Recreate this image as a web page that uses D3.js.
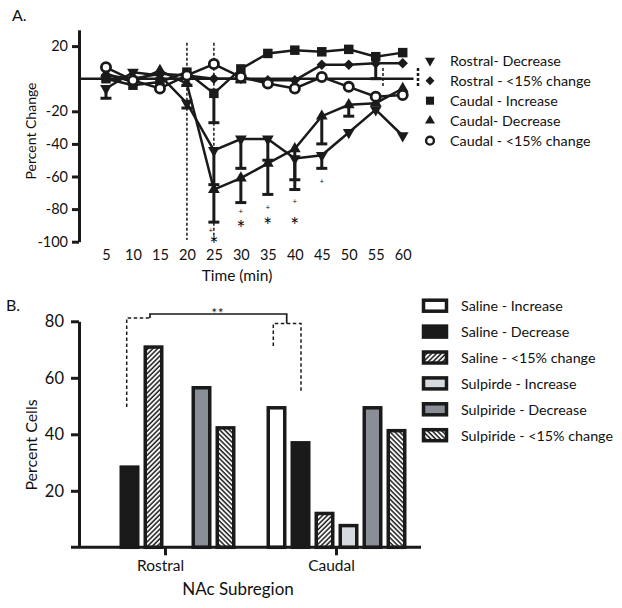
<!DOCTYPE html>
<html><head><meta charset="utf-8">
<script src="https://cdn.jsdelivr.net/npm/d3@7"></script>
<style>
body{margin:0;background:#fff}
svg{display:block}
text{font-family:Lato,"Open Sans",sans-serif;fill:#111}
</style>
</head><body>
<svg id="c" width="622" height="608"></svg>
<script>
// ---------- Panel A data ----------
const times = [5,10,15,20,25,30,35,40,45,50,55,60];
const rostralDecrease     = [-6, 4, 2, -15, -44, -37, -37, -49, -47, -33, -19, -35];
const rostralDecreaseErr  = [-12, null, null, -18, -65, -55, -50, -68, -55, null, null, null];
const rostralNoChange     = [2, 0, 3, 2, 0, 0, -1, -1, 8.5, 8.5, 9.5, 9.5];
const rostralNoChangeErr  = [null, null, null, null, null, null, null, null, null, null, 0, null];
const caudalIncrease      = [0, -4, -2, 4, -9, 6, 15.5, 17.5, 16.5, 18, 13.5, 16];
const caudalIncreaseErr   = [null, null, null, -4, -27, -2, null, null, null, null, null, null];
const caudalDecrease      = [3, -2, 5, -3, -68, -61, -52, -43, -23, -16, -15, -6];
const caudalDecreaseErr   = [null, null, null, null, -88, -76, -71, -62, -40, -23, null, null];
const caudalNoChange      = [7, -1, -6, 2, 9, 1, -3, -6, 1, -5, -11, -10];
const seriesNamesA = ["Rostral- Decrease","Rostral - <15% change","Caudal - Increase","Caudal- Decrease","Caudal - <15% change"];
const yTicksA = [20,-20,-40,-60,-80,-100];
const stimTimes = [20, 25];
const plusMarks = [{t:25,v:-93},{t:30,v:-81},{t:35,v:-78.5},{t:40,v:-75},{t:45,v:-63}];
const starMarks = [{t:25,v:-98},{t:30,v:-88},{t:35,v:-86},{t:40,v:-86}];

// ---------- Panel B data ----------
const subregions = ["Rostral","Caudal"];
const seriesNamesB = ["Saline - Increase","Saline - Decrease","Saline - <15% change","Sulpirde - Increase","Sulpiride - Decrease","Sulpiride - <15% change"];
const salineIncrease    = [0, 50];
const salineDecrease    = [29, 37.6];
const salineNoChange    = [71.5, 12.6];
const sulpirideIncrease = [0, 8.3];
const sulpirideDecrease = [57.1, 50];
const sulpirideNoChange = [42.9, 41.9];
const yTicksB = [20,40,60,80];

const INK = "#1a1a1a";
const FONT = "Lato";
const fmt = d => String(d);
const svg = d3.select("#c");
const defs = svg.append("defs");
function hatch(id, angle){
  const p = defs.append("pattern").attr("id",id).attr("patternUnits","userSpaceOnUse")
    .attr("width",3.4).attr("height",3.4).attr("patternTransform",`rotate(${angle})`);
  p.append("rect").attr("width",3.4).attr("height",3.4).attr("fill","#fff");
  p.append("line").attr("x1",1).attr("x2",1).attr("y1",0).attr("y2",3.4).attr("stroke",INK).attr("stroke-width",1.5);
}
hatch("hatchR", 45);
hatch("hatchL", -45);

// ================= Panel A =================
const x = d3.scaleLinear().domain([0,62]).range([79,413.5]);
const y = d3.scaleLinear().domain([-100,30]).range([241.7,29.8]);

svg.append("text").attr("x",12).attr("y",21).attr("font-size",16).text("A.");

// stimulus dashed lines
svg.selectAll(".stim").data(stimTimes).join("line")
  .attr("x1",d=>x(d)).attr("x2",d=>x(d)).attr("y1",y(22)).attr("y2",240)
  .attr("stroke",INK).attr("stroke-width",1.5).attr("stroke-dasharray","3,2");

// zero line
svg.append("line").attr("x1",x(0)).attr("x2",x(62)).attr("y1",y(0)).attr("y2",y(0))
  .attr("stroke",INK).attr("stroke-width",2.5);

// y axis
const gYA = svg.append("g").attr("transform",`translate(${x(0)},0)`)
  .call(d3.axisLeft(y).tickValues(yTicksA).tickFormat(fmt).tickSize(7).tickSizeOuter(0).tickPadding(4));
gYA.select(".domain").attr("stroke",INK).attr("stroke-width",3);
gYA.selectAll(".tick line").attr("stroke",INK).attr("stroke-width",3);
gYA.selectAll(".tick text").attr("font-size",14.5).attr("font-family",FONT).attr("fill","#111");

// x axis (labels only)
const gXA = svg.append("g").attr("transform","translate(0,248)")
  .call(d3.axisBottom(x).tickValues(times).tickFormat(fmt).tickSize(0).tickPadding(2));
gXA.select(".domain").remove();
gXA.selectAll(".tick text").attr("font-size",14.5).attr("font-family",FONT).attr("fill","#111");

svg.append("text").attr("x",237).attr("y",281).attr("text-anchor","middle").attr("font-size",15.5).text("Time (min)");
svg.append("text").attr("transform","translate(36,131) rotate(-90)").attr("text-anchor","middle").attr("font-size",14).text("Percent Change");

const seriesA = [
  {vals:rostralDecrease, err:rostralDecreaseErr, sym:"tdown"},
  {vals:rostralNoChange, err:rostralNoChangeErr, sym:"diamond"},
  {vals:caudalIncrease, err:caudalIncreaseErr, sym:"square"},
  {vals:caudalDecrease, err:caudalDecreaseErr, sym:"tup"},
  {vals:caudalNoChange, err:null, sym:"circle"}
];

function drawMarker(g, sym, cx, cy, scale){
  const s = scale||1;
  if(sym==="circle"){
    g.append("circle").attr("cx",cx).attr("cy",cy).attr("r",4.6*s).attr("fill","#fff").attr("stroke",INK).attr("stroke-width",2.8*s);
  } else if(sym==="square"){
    g.append("path").attr("d",d3.symbol(d3.symbolSquare, 90*s*s)()).attr("transform",`translate(${cx},${cy})`).attr("fill",INK);
  } else if(sym==="diamond"){
    g.append("path").attr("d",d3.symbol(d3.symbolSquare, 55*s*s)()).attr("transform",`translate(${cx},${cy}) rotate(45)`).attr("fill",INK);
  } else if(sym==="tup"){
    g.append("path").attr("d",d3.symbol(d3.symbolTriangle, 60*s*s)()).attr("transform",`translate(${cx},${cy})`).attr("fill",INK);
  } else if(sym==="tdown"){
    g.append("path").attr("d",d3.symbol(d3.symbolTriangle, 60*s*s)()).attr("transform",`translate(${cx},${cy}) rotate(180)`).attr("fill",INK);
  }
}

const line = d3.line().x((d,i)=>x(times[i])).y(d=>y(d));
const gA = svg.append("g");
// error bars
seriesA.forEach(s=>{
  if(!s.err) return;
  s.err.forEach((e,i)=>{
    if(e===null) return;
    gA.append("line").attr("x1",x(times[i])).attr("x2",x(times[i])).attr("y1",y(s.vals[i])).attr("y2",y(e))
      .attr("stroke",INK).attr("stroke-width",3);
    gA.append("line").attr("x1",x(times[i])-5.5).attr("x2",x(times[i])+5.5).attr("y1",y(e)).attr("y2",y(e))
      .attr("stroke",INK).attr("stroke-width",3);
  });
});
// lines
seriesA.forEach(s=>{
  gA.append("path").attr("d",line(s.vals)).attr("fill","none").attr("stroke",INK).attr("stroke-width",2.5);
});
// markers
seriesA.forEach(s=>{
  s.vals.forEach((v,i)=>drawMarker(gA, s.sym, x(times[i]), y(v), 1));
});

// significance marks
svg.selectAll(".plus").data(plusMarks).join("text")
  .attr("x",d=>x(d.t)-(d.t===25?3:0)).attr("y",d=>y(d.v)+3).attr("text-anchor","middle").attr("font-size",8).attr("fill","#222").text("+");
svg.selectAll(".star").data(starMarks).join("text")
  .attr("x",d=>x(d.t)).attr("y",d=>y(d.v)+14).attr("text-anchor","middle").attr("font-size",21).attr("fill","#222").text("*");

// small dashed artifacts
svg.append("line").attr("x1",383).attr("x2",383).attr("y1",68).attr("y2",87).attr("stroke",INK).attr("stroke-width",1.5).attr("stroke-dasharray","3,2");
svg.append("line").attr("x1",418).attr("x2",418).attr("y1",68).attr("y2",87).attr("stroke",INK).attr("stroke-width",2.5).attr("stroke-dasharray","3,2");

// legend A
const legA = svg.append("g");
seriesA.forEach((s,i)=>{
  const cy = 60.7 + i*20;
  drawMarker(legA, s.sym, 430, cy, 0.85);
  legA.append("text").attr("x",450).attr("y",cy+5).attr("font-size",14.3).text(seriesNamesA[i]);
});

// ================= Panel B =================
const seriesB = [
  {vals:salineIncrease, fill:"#fff"},
  {vals:salineDecrease, fill:INK},
  {vals:salineNoChange, fill:"url(#hatchR)"},
  {vals:sulpirideIncrease, fill:"#d6d9dd"},
  {vals:sulpirideDecrease, fill:"#8a8f97"},
  {vals:sulpirideNoChange, fill:"url(#hatchL)"}
];
const x0 = d3.scaleBand().domain(subregions).range([80,422]).paddingInner(0.158).paddingOuter(0.079);
const x1 = d3.scaleBand().domain(d3.range(6)).range([0,x0.bandwidth()]).paddingInner(0.3125).paddingOuter(0.156);
const y2 = d3.scaleLinear().domain([0,80]).range([547.3,321.3]);

svg.append("text").attr("x",6).attr("y",311).attr("font-size",16).text("B.");

const gB = svg.append("g");
subregions.forEach((g,gi)=>{
  seriesB.forEach((s,k)=>{
    const v = s.vals[gi];
    if(!v) return;
    gB.append("rect").attr("x",x0(g)+x1(k)).attr("width",x1.bandwidth())
      .attr("y",y2(v)+1.75).attr("height",y2(0)-y2(v)-1.75)
      .attr("fill",s.fill).attr("stroke",INK).attr("stroke-width",3.5);
  });
});

// baseline and axes
svg.append("line").attr("x1",71).attr("x2",421).attr("y1",y2(0)).attr("y2",y2(0)).attr("stroke",INK).attr("stroke-width",3);
const gYB = svg.append("g").attr("transform","translate(79,0)")
  .call(d3.axisLeft(y2).tickValues(yTicksB).tickFormat(fmt).tickSize(8).tickSizeOuter(0).tickPadding(7));
gYB.select(".domain").attr("stroke",INK).attr("stroke-width",3);
gYB.selectAll(".tick line").attr("stroke",INK).attr("stroke-width",3);
gYB.selectAll(".tick text").attr("font-size",16.5).attr("font-family",FONT).attr("fill","#111");

const gXB = svg.append("g").attr("transform",`translate(0,${y2(0)})`)
  .call(d3.axisBottom(x0).tickSize(8).tickPadding(5));
gXB.select(".domain").remove();
gXB.selectAll(".tick line").attr("stroke",INK).attr("stroke-width",3);
gXB.selectAll(".tick text").attr("font-size",15.5).attr("font-family",FONT).attr("fill","#111").attr("dx",-5);

svg.append("text").attr("x",238).attr("y",595).attr("text-anchor","middle").attr("font-size",17).text("NAc Subregion");
svg.append("text").attr("transform","translate(37,445) rotate(-90)").attr("text-anchor","middle").attr("font-size",16).text("Percent Cells");

// significance bracket
const br = svg.append("g").attr("fill","none").attr("stroke",INK);
br.append("path").attr("d","M126.7,407 V318 H150").attr("stroke-width",1.5).attr("stroke-dasharray","3.5,2.5");
br.append("path").attr("d","M150,318 V314 H286.7 V323.5").attr("stroke-width",1.7);
br.append("path").attr("d","M273.3,346 V323.5 H301 V393").attr("stroke-width",1.5).attr("stroke-dasharray","3.5,2.5");
svg.append("text").attr("x",218).attr("y",318).attr("text-anchor","middle").attr("font-size",13).attr("letter-spacing",1).text("**");

// legend B
const legB = svg.append("g");
seriesB.forEach((s,i)=>{
  const cy = 305.7 + i*25.9;
  legB.append("rect").attr("x",423.5).attr("y",cy-5.5).attr("width",23).attr("height",11)
    .attr("fill",s.fill).attr("stroke",INK).attr("stroke-width",3.5);
  legB.append("text").attr("x",461).attr("y",cy+5.5).attr("font-size",14.3).text(seriesNamesB[i]);
});
</script>
</body></html>
